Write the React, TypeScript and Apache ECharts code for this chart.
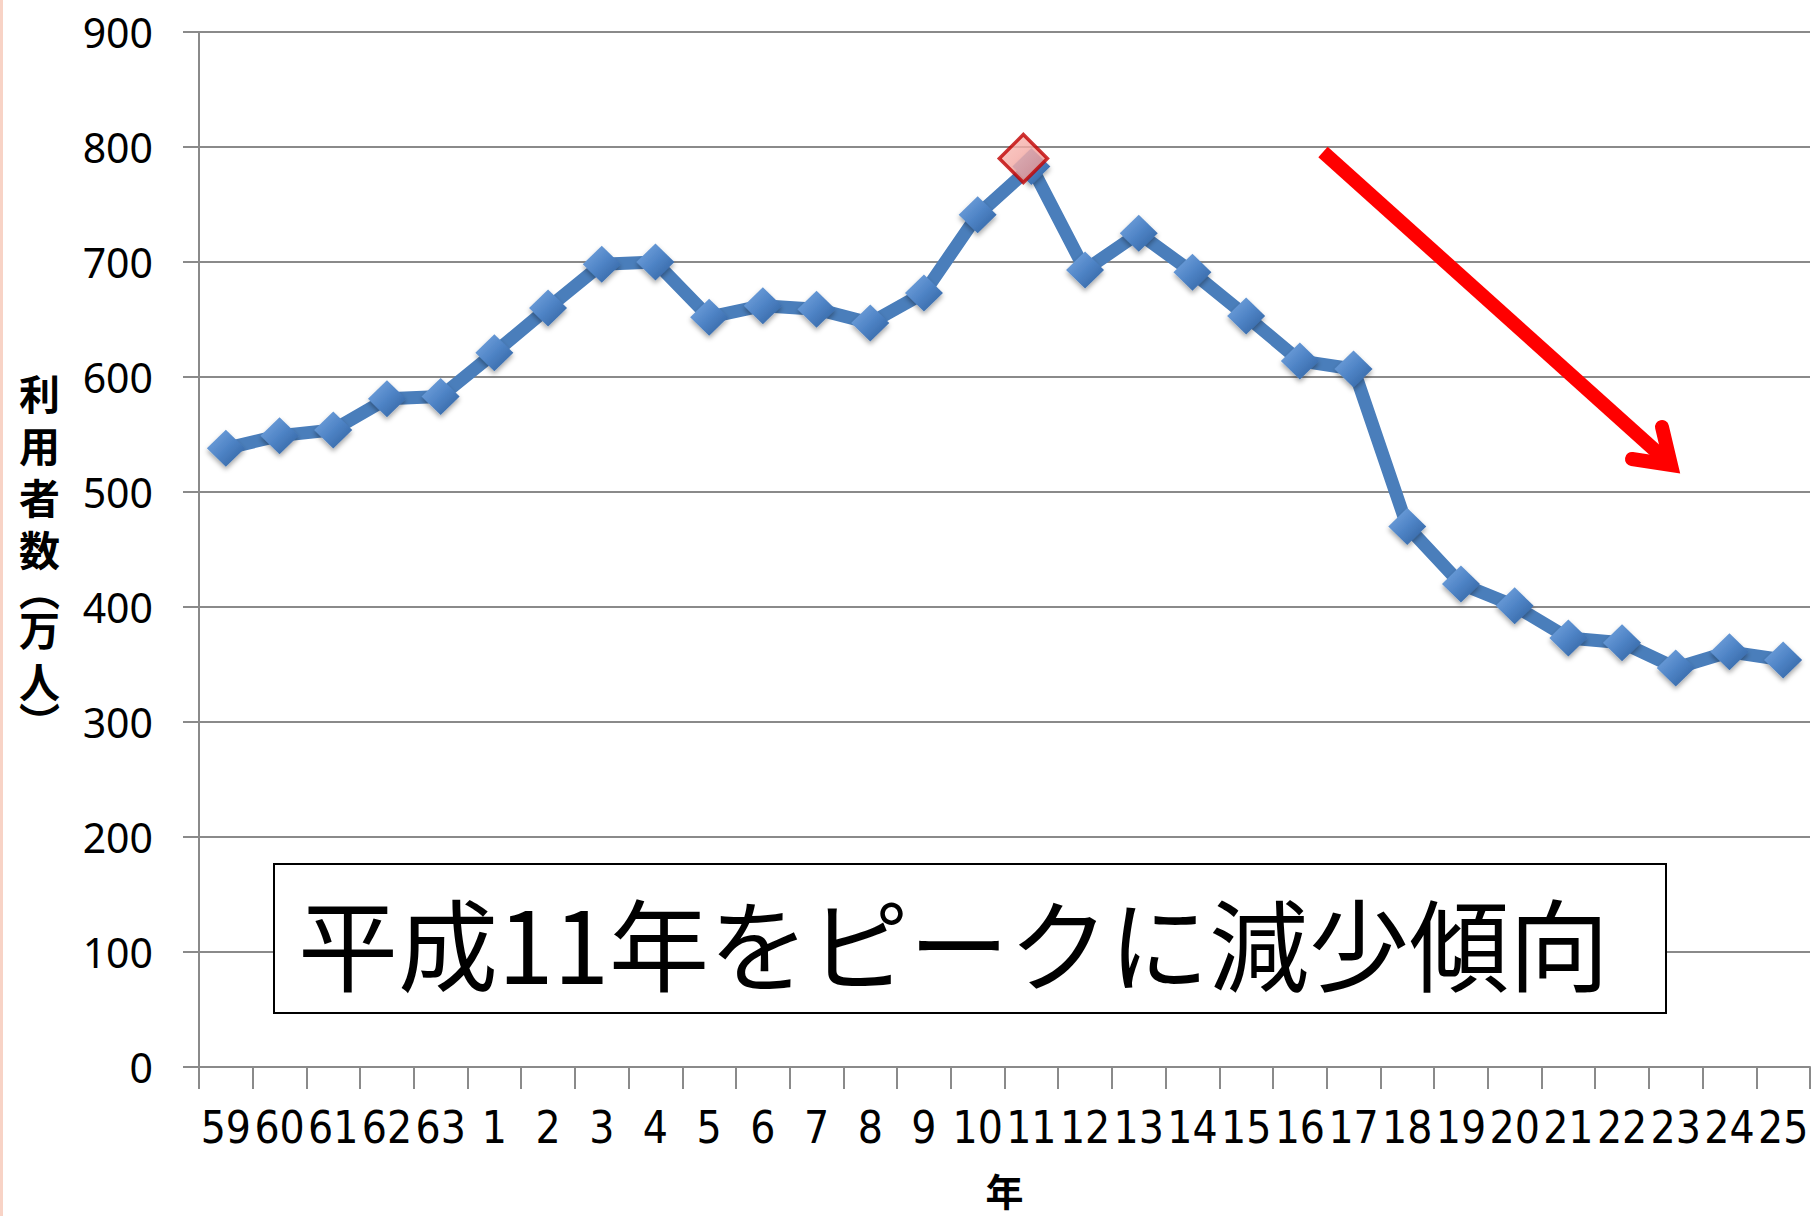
import React, { useEffect, useRef } from "react";
import * as echarts from "echarts";

const categories = ["59", "60", "61", "62", "63", "1", "2", "3", "4", "5", "6", "7", "8", "9", "10", "11", "12", "13", "14", "15", "16", "17", "18", "19", "20", "21", "22", "23", "24", "25"];
const users = [538, 549, 554, 581, 583, 621, 660, 698, 700, 652, 662, 659, 647, 673, 741, 783, 693, 725, 691, 653, 614, 607, 470, 420, 401, 373, 369, 347, 361, 354];
const peakIndex = 15;
const peakValue = 790;
const yTicks = { min: 0, max: 900, interval: 100 };
const yAxisTitleChars = ["利", "用", "者", "数", "︵", "万", "人", "︶"];
const xAxisTitle = "年";
const annotation = "平成11年をピークに減少傾向";

export default function App() {
  const ref = useRef<HTMLDivElement>(null);
  useEffect(() => {
    if (!ref.current) return;
    const chart = echarts.init(ref.current, null, { renderer: "svg" });
    const peakData = users.map((_, i) => (i === peakIndex ? peakValue : null));
    const gray = "#8a8a8a";
    const yName = yAxisTitleChars
      .map((c) => (c === "︵" || c === "︶" ? `{p|${c}}` : `{a|${c}}`))
      .join("\n");
    const nameFont = { fontFamily: "Noto Sans CJK JP", fontWeight: "bold", fontSize: 41, color: "#000" };
    chart.setOption({
      animation: false,
      backgroundColor: "#ffffff",
      grid: { left: 199, right: 4, top: 32, bottom: 149, containLabel: false },
      xAxis: {
        type: "category",
        data: categories,
        boundaryGap: true,
        name: xAxisTitle,
        nameLocation: "middle",
        nameGap: 103,
        nameTextStyle: { fontFamily: "Noto Sans CJK JP", fontWeight: "bold", fontSize: 38, lineHeight: 38, color: "#000" },
        axisLine: { lineStyle: { color: gray, width: 2 } },
        axisTick: { show: true, length: 22, alignWithLabel: false, lineStyle: { color: gray, width: 2 } },
        axisLabel: {
          interval: 0,
          margin: 38,
          fontFamily: "DejaVu Sans Condensed, sans-serif",
          fontSize: 44,
          color: "#000",
        },
        splitLine: { show: false },
      },
      yAxis: {
        type: "value",
        min: yTicks.min,
        max: yTicks.max,
        interval: yTicks.interval,
        name: yName,
        nameLocation: "middle",
        nameRotate: 0,
        nameGap: 139,
        nameTextStyle: {
          ...nameFont,
          rich: {
            a: { ...nameFont, lineHeight: 52 },
            p: { ...nameFont, lineHeight: 28 },
          },
        },
        axisLine: { show: true, lineStyle: { color: gray, width: 2 } },
        axisTick: { show: true, length: 16, lineStyle: { color: gray, width: 2 } },
        axisLabel: { margin: 46, fontFamily: "Noto Sans", fontSize: 41, color: "#000" },
        splitLine: { show: true, lineStyle: { color: gray, width: 2 } },
      },
      series: [
        {
          type: "line",
          data: users,
          symbol: "diamond",
          symbolSize: [38, 37],
          lineStyle: { color: "#4A7EBB", width: 13 },
          itemStyle: {
            color: new echarts.graphic.LinearGradient(0, 0, 1, 1, [
              { offset: 0, color: "#7aa9e2" },
              { offset: 0.5, color: "#4f84c6" },
              { offset: 1, color: "#2d5e9c" },
            ]),
            borderWidth: 0,
            shadowBlur: 5,
            shadowColor: "rgba(0,0,0,0.35)",
            shadowOffsetY: 3,
          },
          z: 2,
        },
        {
          type: "scatter",
          data: peakData,
          symbol: "diamond",
          symbolSize: [48, 48],
          symbolOffset: [-8, 0],
          itemStyle: {
            color: new echarts.graphic.LinearGradient(0, 0, 1, 1, [
              { offset: 0, color: "#f9c0bb" },
              { offset: 1, color: "#ee8f88" },
            ]),
            borderColor: "#c00000",
            borderWidth: 3.5,
          },
          z: 5,
        },
      ],
      graphic: [
        { type: "rect", left: 0, top: 0, shape: { width: 3, height: 1216 }, style: { fill: "#f8d3c6" }, z: 10 },
        {
          type: "rect",
          shape: { x: 274, y: 864, width: 1392, height: 149 },
          style: { fill: "#ffffff", stroke: "#000000", lineWidth: 2 },
          z: 20,
        },
        {
          type: "text",
          x: 298,
          y: 940,
          style: {
            text: annotation,
            fontFamily: "Noto Sans CJK JP",
            fontWeight: "normal",
            fontSize: 100,
            fill: "#000",
            textVerticalAlign: "middle",
            textAlign: "left",
          },
          z: 21,
        },
        {
          type: "line",
          shape: { x1: 1323, y1: 152, x2: 1668, y2: 462 },
          style: { stroke: "#ff0000", lineWidth: 14, lineCap: "butt" },
          z: 20,
        },
        {
          type: "polyline",
          shape: { points: [[1662, 427], [1671, 465], [1632, 459]] },
          style: { stroke: "#ff0000", lineWidth: 14, lineCap: "round", lineJoin: "miter", miterLimit: 10, fill: "none" },
          z: 20,
        },
      ],
    });
    return () => chart.dispose();
  }, []);
  return (
    <div
      ref={ref}
      style={{ position: "fixed", left: 0, top: 0, width: 1814, height: 1216, background: "#fff" }}
    />
  );
}
